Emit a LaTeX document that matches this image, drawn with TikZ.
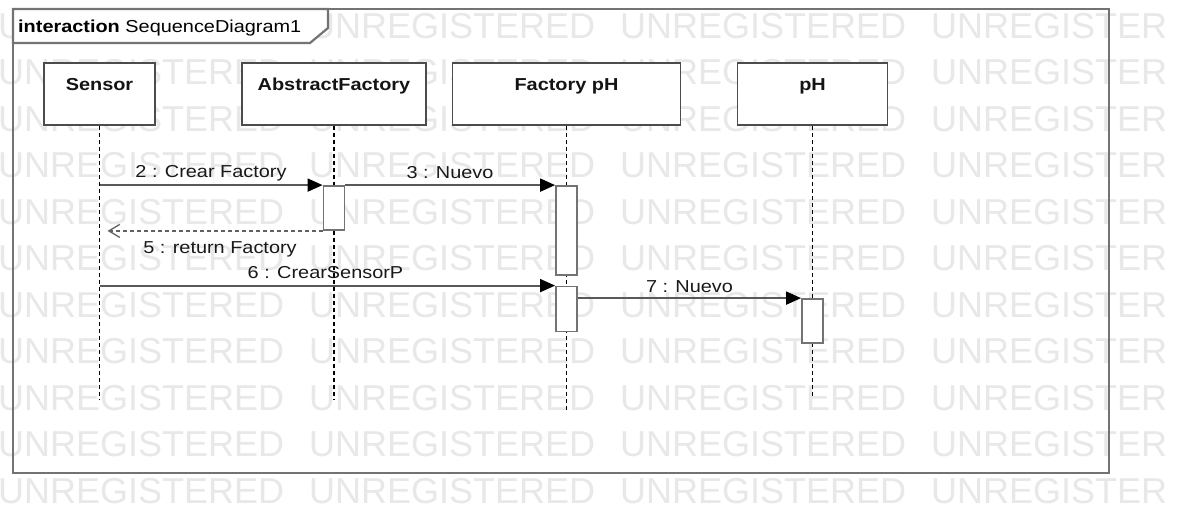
\documentclass[tikz,border=0pt]{standalone}
\usepackage{fontspec}
\setmainfont{Liberation Sans}[FakeStretch=1.15]
\newfontfamily\wmfamily{Liberation Sans}
\usetikzlibrary{arrows.meta}
\begin{document}
\begin{tikzpicture}[x=1pt,y=-1pt,
  wm/.style={font=\wmfamily\fontsize{36}{40}\selectfont, text=black!9, inner sep=0pt, anchor=base west},
  frameline/.style={draw=black!55, line width=2.2pt},
  head/.style={draw=black!70, line width=1.8pt, fill=white, minimum height=62pt, inner sep=0pt},
  headtxt/.style={font=\bfseries\fontsize{17.3}{20}\selectfont, inner sep=0pt, anchor=base, text=black!92},
  lifeline/.style={draw=black, line width=1.1pt, dash pattern=on 4pt off 3pt},
  act/.style={draw=black!55, line width=1.8pt, fill=white, minimum width=21pt, inner sep=0pt},
  msg/.style={draw=black!65, line width=1.8pt, -{Triangle[length=15pt,width=13pt,color=black]}},
  ret/.style={draw=black!62, line width=1.5pt, dash pattern=on 4pt off 3pt, -{Straight Barb[length=11pt,width=13pt,line width=1.3pt]}},
  mlbl/.style={font=\fontsize{17.3}{20}\selectfont, inner sep=0pt, anchor=base, text=black!90},
]
\useasboundingbox (0,0) rectangle (1182,511);
\fill[white] (0,0) rectangle (1182,511);
% watermark
\begin{scope}
  \clip (0,0) rectangle (1182,511);
  \foreach \r in {0,...,10}{
    \foreach \c in {0,...,2}{
      \node[wm] (wm-\r-\c) at ({-2+311*\c},{38+46.5*\r}) {UNREGISTERED};
    }
    \node[wm] (wm-\r-3) at (931,{38+46.5*\r}) {UNREGISTER};
  }
\end{scope}
% frame
\draw[frameline] (13,9) rectangle (1109,473);
\draw[frameline, fill=white] (13,9) -- (328,9) -- (328,28) -- (310,43) -- (13,43) -- cycle;
\node[font=\fontsize{17.3}{20}\selectfont, inner sep=0pt, anchor=base west] (title) at (18,32.3) {\textbf{interaction} SequenceDiagram1};
% heads
\node[head, minimum width=111pt] (sensor) at (99.5,94) {};
\node[headtxt] (sensorT) at (99.5,90.5) {Sensor};
\node[head, minimum width=184pt] (af) at (334,94) {};
\node[headtxt] (afT) at (334,90.5) {AbstractFactory};
\node[head, minimum width=228pt] (fph) at (566.5,94) {};
\node[headtxt] (fphT) at (566.5,90.5) {Factory pH};
\node[head, minimum width=150pt] (ph) at (812.5,94) {};
\node[headtxt] (phT) at (812.5,90.5) {pH};
% lifelines
\coordinate (sensorEnd) at (99.5,400);
\coordinate (afEnd) at (334,400);
\coordinate (fphEnd) at (566.5,410);
\coordinate (phEnd) at (812.5,398);
\draw[lifeline] (sensor.south) -- (sensorEnd);
\draw[lifeline] (af.south) -- (afEnd);
\draw[lifeline] (fph.south) -- (fphEnd);
\draw[lifeline] (ph.south) -- (phEnd);
% activations
\node[act, minimum height=44pt] (a1) at (334,208) {};
\node[act, minimum height=89pt] (f1) at (566.5,230.5) {};
\node[act, minimum height=45pt] (f2) at (566.5,309) {};
\node[act, minimum height=44pt] (p1) at (812.5,321) {};
% messages
\draw[msg] (sensor.south |- a1.north west) -- (a1.north west);
\draw[msg] (a1.north east) -- (f1.north west);
\path (sensor.south |- a1.south west) ++(8,0) coordinate (r5);
\draw[ret] (a1.south west) -- (r5);
\draw[msg] (sensor.south |- f2.north west) -- (f2.north west);
\draw[msg] (f2.east |- p1.north west) -- (p1.north west);
% labels
\node[mlbl] (m2) at (211,177) {2 : Crear Factory};
\node[mlbl] (m3) at (450,178) {3 : Nuevo};
\node[mlbl] (m5) at (220,253) {5 : return Factory};
\node[mlbl] (m6) at (325.5,278) {6 : CrearSensorP};
\node[mlbl] (m7) at (689.5,292) {7 : Nuevo};
\end{tikzpicture}
\end{document}
